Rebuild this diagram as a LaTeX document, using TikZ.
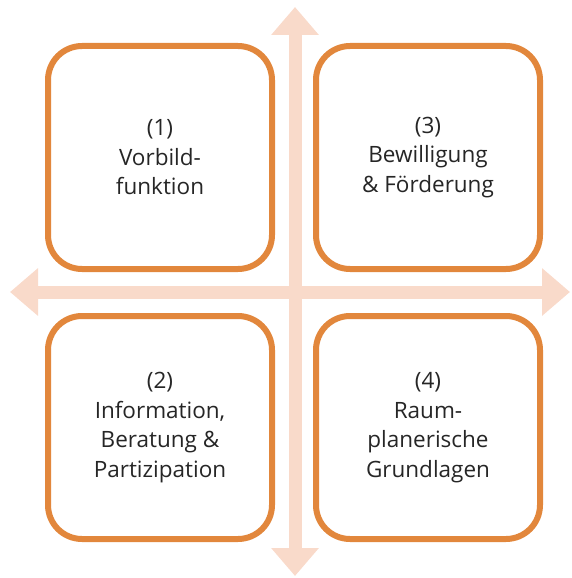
\documentclass[tikz,border=0pt]{standalone}
\usepackage{fontspec}
\setmainfont{Open Sans}
\usetikzlibrary{arrows.meta}
\definecolor{boxorange}{HTML}{E2873C}
\definecolor{axispeach}{HTML}{F9DACA}
\tikzset{
  tile/.style={draw=boxorange, fill=white, line width=6pt, rounded corners=34pt,
    minimum width=224pt, minimum height=223pt, align=center,
    font=\fontsize{22.5}{29.5}\selectfont, text=black!85},
  axis/.style={draw=axispeach, line width=13pt,
    {Triangle[width=46pt,length=28pt]}-{Triangle[width=46pt,length=28pt]}}
}
\begin{document}
\begin{tikzpicture}[x=1pt,y=-1pt]
    \useasboundingbox (0,0) rectangle (572,578);
    % axes
    \coordinate (top) at (295,7);
    \coordinate (bottom) at (295,576);
    \coordinate (left) at (10,292);
    \coordinate (right) at (570,292);
    \draw[axis] (left) -- (right);
    \draw[axis] (top) -- (bottom);
    % quadrants
    \node[tile] (vorbild) at (160,157.5) {(1)\\Vorbild-\\funktion};
    \node[tile] (bewilligung) at (428,157.5) {(3)\\Bewilligung\\\& Förderung};
    \node[tile] (info) at (160,427.5) {(2)\\Information,\\Beratung \&\\Partizipation};
    \node[tile] (raum) at (428,427.5) {(4)\\Raum-\\planerische\\Grundlagen};
  \end{tikzpicture}
\end{document}
